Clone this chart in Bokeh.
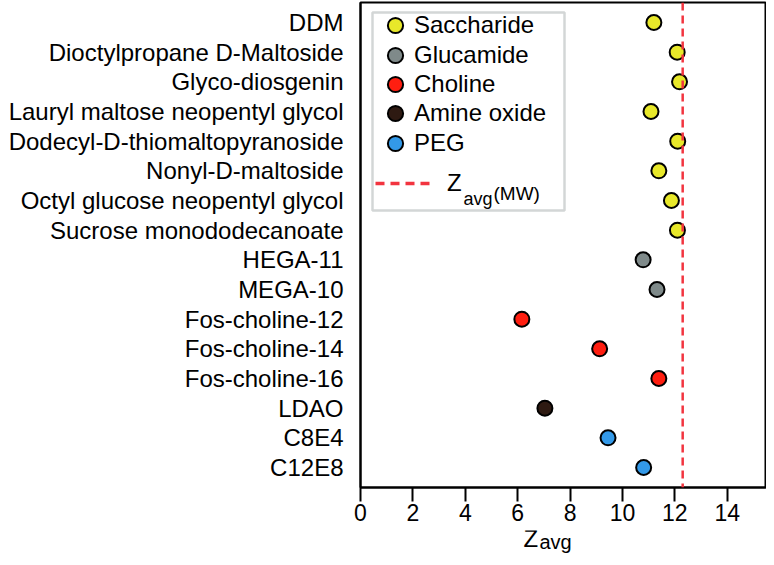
from bokeh.plotting import figure
from bokeh.layouts import column
from bokeh.models import (FactorRange, Range1d, Span, Legend, LegendItem, Label,
                          BoxAnnotation, FixedTicker, ColumnDataSource)
from bokeh.embed import file_html
from bokeh.resources import INLINE

# ---------------- data ----------------
detergents = ["DDM", "Dioctylpropane D-Maltoside", "Glyco-diosgenin",
              "Lauryl maltose neopentyl glycol", "Dodecyl-D-thiomaltopyranoside",
              "Nonyl-D-maltoside", "Octyl glucose neopentyl glycol",
              "Sucrose monododecanoate", "HEGA-11", "MEGA-10", "Fos-choline-12",
              "Fos-choline-14", "Fos-choline-16", "LDAO", "C8E4", "C12E8"]
z_avg = [11.2, 12.09, 12.18, 11.09, 12.11, 11.39, 11.87, 12.10,
         10.79, 11.32, 6.16, 9.13, 11.39, 7.04, 9.45, 10.81]
det_class = ["Saccharide"] * 8 + ["Glucamide"] * 2 + ["Choline"] * 3 + \
            ["Amine oxide"] + ["PEG"] * 2
class_names = ["Saccharide", "Glucamide", "Choline", "Amine oxide", "PEG"]
class_colors = ["#e8e82a", "#7f8a8a", "#ff1e10", "#2e1a12", "#3399e8"]
z_avg_mw = 12.3
x_ticks = [0, 2, 4, 6, 8, 10, 12, 14]

FONT = "Liberation Sans"

W = 766
H1 = 530          # main figure
H2 = 27           # strip holding the x-axis title
FRAME_H = 485
TOP = 2

p = figure(width=W, height=H1, output_backend="svg", toolbar_location=None,
           title=None,
           x_range=Range1d(0, 15.5),
           y_range=FactorRange(factors=list(reversed(detergents)),
                               range_padding=0.175, range_padding_units="absolute"),
           min_border_left=360, min_border_right=0, min_border_top=TOP,
           min_border_bottom=H1 - FRAME_H - TOP)

p.grid.visible = False
p.outline_line_color = "black"
p.outline_line_width = 2
p.outline_line_alpha = 1

# x axis
xa = p.xaxis[0]
xa.ticker = FixedTicker(ticks=x_ticks)
xa.major_tick_out = 14
xa.major_tick_in = 0
xa.major_tick_line_width = 2
xa.major_tick_line_color = "black"
xa.minor_tick_line_color = None
xa.axis_line_width = 2
xa.axis_line_color = "black"
xa.major_label_text_font = FONT
xa.major_label_text_font_size = "23px"
xa.major_label_text_color = "black"
xa.major_label_standoff = 2

# y axis
ya = p.yaxis[0]
ya.major_tick_out = 0
ya.major_tick_in = 0
ya.minor_tick_line_color = None
ya.axis_line_width = 2
ya.axis_line_color = "black"
ya.major_label_text_font = FONT
ya.major_label_text_font_size = "24px"
ya.major_label_text_color = "black"
ya.major_label_standoff = 17

# reference line
p.add_layout(Span(location=z_avg_mw, dimension="height", line_color="#f2343f",
                  line_dash="8 5", line_width=2.5))

# points
renderers = []
for name, color in zip(class_names, class_colors):
    xs = [z for z, c in zip(z_avg, det_class) if c == name]
    ys = [d for d, c in zip(detergents, det_class) if c == name]
    src = ColumnDataSource(dict(z=xs, det=ys))
    r = p.scatter(x="z", y="det", source=src, size=15, fill_color=color,
                  line_color="black", line_width=2)
    renderers.append(r)

# single-point line renderer (draws nothing) used only as legend swatch
line_src = ColumnDataSource(dict(z=[z_avg_mw], det=[detergents[0]]))
line_r = p.line(x="z", y="det", source=line_src, line_color="#f2343f",
                line_dash="9 6", line_width=3.5)

# legends: one per entry so entries can sit closer than the swatch size
item_centers = [25, 55, 84, 113, 143]   # layout (px from top of canvas)
for name, r, cy in zip(class_names, renderers, item_centers):
    lg = Legend(items=[LegendItem(label=name, renderers=[r])],
                location=(16, FRAME_H - (cy - TOP - 19) - 38),
                glyph_width=38, glyph_height=38, label_height=38,
                padding=0, margin=0, label_standoff=0,
                label_text_font=FONT, label_text_font_size="24px",
                label_text_color="black",
                border_line_color=None, background_fill_alpha=0)
    p.add_layout(lg)

leg_b = Legend(items=[LegendItem(label="Z", renderers=[line_r])],
               location=(15, FRAME_H - (183 - TOP - 15) - 30),
               glyph_width=60, glyph_height=30, label_height=30,
               padding=0, margin=0, label_standoff=12,
               label_text_font=FONT, label_text_font_size="24px",
               label_text_color="black",
               border_line_color=None, background_fill_alpha=0)
p.add_layout(leg_b)

p.add_layout(Label(x=103, y=FRAME_H - (198 - TOP), x_units="screen", y_units="screen",
                   text="avg", text_font=FONT, text_font_size="18px",
                   text_color="black", text_baseline="alphabetic"))
p.add_layout(Label(x=133, y=FRAME_H - (193 - TOP), x_units="screen", y_units="screen",
                   text="(MW)", text_font=FONT, text_font_size="19px",
                   text_color="black", text_baseline="alphabetic"))

# legend border
p.add_layout(BoxAnnotation(left=12, right=204,
                           top=FRAME_H - (12 - TOP), bottom=FRAME_H - (210 - TOP),
                           left_units="screen", right_units="screen",
                           top_units="screen", bottom_units="screen",
                           fill_alpha=0, line_color="#6e7777", line_width=2.5))

# strip below holding the x-axis title  Z_avg (its frame is aligned with p's frame)
p2 = figure(width=W, height=H2, output_backend="svg", toolbar_location=None,
            title=None, x_axis_type=None, y_axis_type=None,
            x_range=Range1d(0, 1), y_range=Range1d(0, 1),
            min_border=0, outline_line_color=None)
p2.grid.visible = False
p2.add_layout(Label(x=163, y=19, x_units="screen", y_units="screen",
                    text="Z", text_font=FONT, text_font_size="24px",
                    text_color="black", text_baseline="alphabetic"))
p2.add_layout(Label(x=179, y=16, x_units="screen", y_units="screen",
                    text="avg", text_font=FONT, text_font_size="20px",
                    text_color="black", text_baseline="alphabetic"))

layout = column(p, p2, spacing=0)
open("out.html", "w").write(file_html(layout, INLINE))
